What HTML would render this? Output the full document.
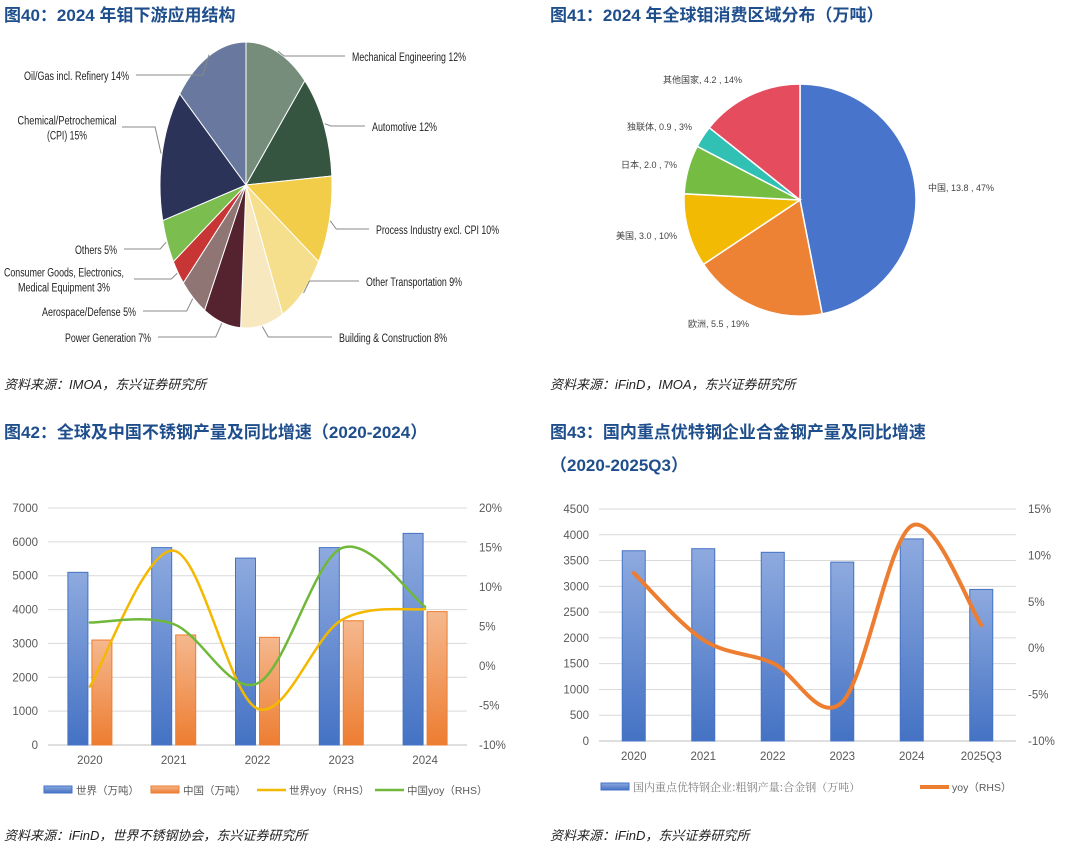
<!DOCTYPE html>
<html><head><meta charset="utf-8"><style>
body{margin:0;background:#fff;}
svg text{font-family:"Liberation Sans","Noto Sans CJK SC",sans-serif;}
.t{font-weight:bold;font-size:17px;fill:#1f4e8c;}
.src{font-style:italic;font-size:13px;fill:#222;}
.tk{font-size:11.5px;fill:#595959;}
.pl{font-size:11.5px;fill:#222;}
.pl2{font-size:9px;fill:#444;}
.lg{font-size:10.5px;fill:#595959;}
.lgs{font-family:"Noto Serif CJK SC","Liberation Serif",serif !important;font-size:11px;fill:#7f7f7f;}
</style></head><body>
<svg id="s" width="1080" height="847" xmlns="http://www.w3.org/2000/svg">
<defs>
<linearGradient id="gb" x1="0" y1="0" x2="0" y2="1"><stop offset="0" stop-color="#8eaadf"/><stop offset="1" stop-color="#4472c4"/></linearGradient>
<linearGradient id="go" x1="0" y1="0" x2="0" y2="1"><stop offset="0" stop-color="#f5b88e"/><stop offset="1" stop-color="#ed7d31"/></linearGradient>
</defs>
<text class="t" x="4" y="21">图40：2024 年钼下游应用结构</text>
<text class="t" x="550" y="21">图41：2024 年全球钼消费区域分布（万吨）</text>
<text class="t" x="4" y="438">图42：全球及中国不锈钢产量及同比增速（2020-2024）</text>
<text class="t" x="550" y="438">图43：国内重点优特钢企业合金钢产量及同比增速</text>
<text class="t" x="550" y="471">（2020-2025Q3）</text>
<text class="src" x="4" y="389">资料来源：IMOA，东兴证券研究所</text>
<text class="src" x="550" y="389">资料来源：iFinD，IMOA，东兴证券研究所</text>
<text class="src" x="4" y="840">资料来源：iFinD，世界不锈钢协会，东兴证券研究所</text>
<text class="src" x="550" y="840">资料来源：iFinD，东兴证券研究所</text>
<g id="g40"></g><g id="g41"></g><g id="g42"></g><g id="g43"></g>
</svg>
<script>
// Fig 40 data
const p40Labels=["Mechanical Engineering 12%","Automotive 12%","Process Industry excl. CPI 10%","Other Transportation 9%","Building & Construction 8%","Power Generation 7%","Aerospace/Defense 5%","Consumer Goods, Electronics,|Medical Equipment 3%","Others 5%","Chemical/Petrochemical|(CPI) 15%","Oil/Gas incl. Refinery 14%"];
const p40Values=[12,12,10,9,8,7,5,3,5,15,14];
const p40Colors=["#758d7a","#355540","#f2cd4a","#f5df8c","#f8e8c0","#55222f","#907575","#c83535","#7cbd4f","#2b3358","#68789e"];
// Fig 41 data
const p41Names=["中国","欧洲","美国","日本","独联体","其他国家"];
const p41Values=[13.8,5.5,3.0,2.0,0.9,4.2];
const p41Colors=["#4874cb","#ee8234","#f2ba02","#75bd42","#30c0b4","#e54c5e"];
// Fig 42 data
const c42Years=["2020","2021","2022","2023","2024"];
const c42World=[5100,5830,5520,5830,6250];
const c42China=[3100,3250,3180,3670,3940];
const c42WorldYoy=[-2.6,14.6,-5.4,5.8,7.2];
const c42ChinaYoy=[5.5,5.3,-2.2,14.9,7.5];
const c42LeftTicks=[0,1000,2000,3000,4000,5000,6000,7000];
const c42RightTicks=[-10,-5,0,5,10,15,20];
// Fig 43 data
const c43Cats=["2020","2021","2022","2023","2024","2025Q3"];
const c43Vals=[3690,3730,3660,3470,3920,2940];
const c43Yoy=[8.1,0.9,-1.6,-5.8,13.2,2.5];
const c43LeftTicks=[0,500,1000,1500,2000,2500,3000,3500,4000,4500];
const c43RightTicks=[-10,-5,0,5,10,15];

const NS="http://www.w3.org/2000/svg";
function mk(par,tag,at,txt){const e=document.createElementNS(NS,tag);for(const k in at)e.setAttribute(k,at[k]);if(txt!=null)e.textContent=txt;par.appendChild(e);return e;}
function smooth(pts){let d="M"+pts[0][0]+","+pts[0][1];for(let i=0;i<pts.length-1;i++){const p0=pts[i-1]||pts[i],p1=pts[i],p2=pts[i+1],p3=pts[i+2]||p2;const c1=[p1[0]+(p2[0]-p0[0])/6,p1[1]+(p2[1]-p0[1])/6],c2=[p2[0]-(p3[0]-p1[0])/6,p2[1]-(p3[1]-p1[1])/6];d+=" C"+c1+" "+c2+" "+p2;}return d;}

// ---- Fig 40 pie (ellipse)
(function(){const g=document.getElementById('g40');const cx=246,cy=185,rx=86,ry=143;const tot=p40Values.reduce((a,b)=>a+b,0);let a=-Math.PI/2;
// [x, y-center, side, widths per line, line-start x of leader]
const lab=[[352,57,'s',[114],345],[372,127,'s',[65],365],[376,230,'s',[123],369],[366,282,'s',[96],359],[339,338,'s',[108],332],
[151,338,'e',[86],158],[136,312,'e',[94],143],[64,280,'m',[120,92],134],[117,250,'e',[42],124],[67,128,'m',[99,40],122],[129,76,'e',[105],136]];
p40Values.forEach((v,i)=>{const a2=a+v/tot*2*Math.PI;const x1=cx+rx*Math.cos(a),y1=cy+ry*Math.sin(a),x2=cx+rx*Math.cos(a2),y2=cy+ry*Math.sin(a2);
const p=mk(g,'path',{d:`M${cx},${cy} L${x1},${y1} A${rx},${ry} 0 ${a2-a>Math.PI?1:0} 1 ${x2},${y2} Z`,fill:p40Colors[i],stroke:'#fff','stroke-width':1});


const am=(a+a2)/2;const ex=cx+(rx+1)*Math.cos(am),ey=cy+(ry+1)*Math.sin(am);const L=lab[i];const right=L[2]=='s';const ly=L[1]-1;
const ln=mk(g,'polyline',{points:`${ex},${ey} ${ex+(right?6:-6)},${ly} ${L[4]},${ly}`,fill:'none',stroke:'#888','stroke-width':1});


const parts=p40Labels[i].split('|');parts.forEach((s,j)=>{const yy=L[1]+4+(parts.length>1?(j-0.5)*15:0);
const t=mk(g,'text',{class:'pl',x:L[0],y:yy,'text-anchor':right?'start':(L[2]=='m'?'middle':'end'),textLength:L[3][j],lengthAdjust:'spacingAndGlyphs'},s);

});a=a2;});})();

// ---- Fig 41 pie
(function(){const g=document.getElementById('g41');const cx=800,cy=200,r=116;const tot=p41Values.reduce((a,b)=>a+b,0);let a=-Math.PI/2;
const lp=[[928,191,'start'],[688,327,'start'],[677,239,'end'],[677,168,'end'],[692,130,'end'],[742,83,'end']];
p41Values.forEach((v,i)=>{const a2=a+v/tot*2*Math.PI;const x1=cx+r*Math.cos(a),y1=cy+r*Math.sin(a),x2=cx+r*Math.cos(a2),y2=cy+r*Math.sin(a2);
const p=mk(g,'path',{d:`M${cx},${cy} L${x1},${y1} A${r},${r} 0 ${a2-a>Math.PI?1:0} 1 ${x2},${y2} Z`,fill:p41Colors[i],stroke:'#fff','stroke-width':1.5});


const t=mk(g,'text',{class:'pl2',x:lp[i][0],y:lp[i][1],'text-anchor':lp[i][2]},p41Names[i]+", "+p41Values[i].toFixed(1)+" , "+Math.round(v/tot*100)+"%");

a=a2;});})();

// ---- combo chart helper
function combo(gid,o){const g=document.getElementById(gid);const {x0,x1,yTop,yBot,lmax,rmin,rmax}=o;
const yl=v=>yBot-(v/lmax)*(yBot-yTop);const yr=v=>yBot-(v-rmin)/(rmax-rmin)*(yBot-yTop);const n=o.cats.length;const step=(x1-x0)/n;const xc=i=>x0+step*(i+0.5);
o.lt.forEach(v=>{const l=mk(g,'line',{x1:x0,x2:x1,y1:yl(v),y2:yl(v),stroke:v==0?'#bfbfbf':'#d9d9d9','stroke-width':1});


const t=mk(g,'text',{class:'tk',x:x0-10,y:yl(v)+4,'text-anchor':'end'},v);

});
o.rt.forEach(v=>{const t=mk(g,'text',{class:'tk',x:x1+12,y:yr(v)+4},v+'%');

});
o.cats.forEach((c,i)=>{const t=mk(g,'text',{class:'tk',x:xc(i),y:yBot+19,'text-anchor':'middle'},c);

});
o.bars.forEach(b=>{b.vals.forEach((v,i)=>{const x=xc(i)+b.off;const r=mk(g,'rect',{x:x,y:yl(v),width:b.w,height:yBot-yl(v),fill:b.fill,stroke:b.stroke,'stroke-width':1});

});});
o.lines.forEach(L=>{const pts=L.vals.map((v,i)=>[xc(i),yr(v)]);const p=mk(g,'path',{d:smooth(pts),fill:'none',stroke:L.color,'stroke-width':L.w,'stroke-linecap':'round'});

});
o.legend.forEach(l=>{let s;if(l.t=='bar'){s=mk(g,'rect',{x:l.x,y:o.ly-4,width:28,height:7,fill:l.fill,stroke:l.stroke});}else{s=mk(g,'line',{x1:l.x,x2:l.x+29,y1:o.ly,y2:o.ly,stroke:l.stroke,'stroke-width':l.w});}


const t=mk(g,'text',{class:l.cls||'lg',x:l.x+32,y:o.ly+4},l.label);

});}

combo('g42',{x0:48,x1:467,yTop:508,yBot:745,lmax:7000,rmin:-10,rmax:20,cats:c42Years,lt:c42LeftTicks,rt:c42RightTicks,
bars:[{vals:c42World,off:-22,w:20,fill:'url(#gb)',stroke:'#4472c4',name:'world'},{vals:c42China,off:2,w:20,fill:'url(#go)',stroke:'#ed7d31',name:'china'}],
lines:[{vals:c42WorldYoy,color:'#f5b800',w:2.5,name:'world-yoy'},{vals:c42ChinaYoy,color:'#70b83a',w:2.5,name:'china-yoy'}],
ly:790,legend:[{t:'bar',x:44,fill:'url(#gb)',stroke:'#4472c4',label:'世界（万吨）'},{t:'bar',x:151,fill:'url(#go)',stroke:'#ed7d31',label:'中国（万吨）'},{t:'line',x:257,stroke:'#f5b800',w:2.5,label:'世界yoy（RHS）'},{t:'line',x:375,stroke:'#70b83a',w:2.5,label:'中国yoy（RHS）'}]});

combo('g43',{x0:599,x1:1016,yTop:509,yBot:741,lmax:4500,rmin:-10,rmax:15,cats:c43Cats,lt:c43LeftTicks,rt:c43RightTicks,
bars:[{vals:c43Vals,off:-11.5,w:23,fill:'url(#gb)',stroke:'#4472c4',name:'alloy-steel'}],
lines:[{vals:c43Yoy,color:'#ed7d31',w:4,name:'yoy'}],
ly:787,legend:[{t:'bar',x:601,fill:'url(#gb)',stroke:'#4472c4',label:'国内重点优特钢企业:粗钢产量:合金钢（万吨）',cls:'lgs'},{t:'line',x:920,stroke:'#ed7d31',w:4,label:'yoy（RHS）'}]});
</script>
</body></html>
